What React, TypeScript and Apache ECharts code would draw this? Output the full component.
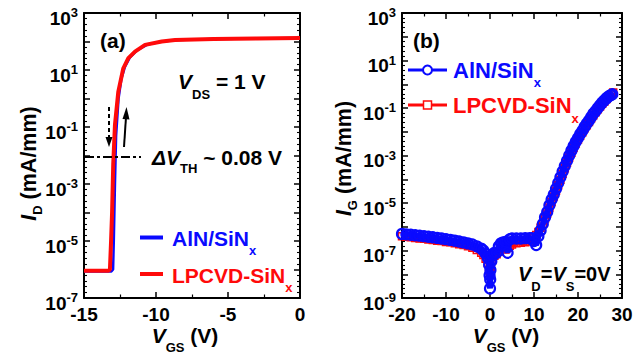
import React, { useEffect, useRef } from 'react';
import * as echarts from 'echarts';

// ---------- data (a): I_D vs V_GS, V_DS = 1 V ----------
const A_BLUE: [number, number][] = [
  [-15, 8.5e-7], [-13.1, 8.5e-7], [-12.98, 1e-6], [-12.93, 1e-5], [-12.85, 1e-3], [-12.77, 5e-2],
  [-12.6, 1], [-12.4, 5], [-12.15, 13], [-11.8, 28], [-11.3, 50], [-10.6, 78], [-9.6, 100],
  [-8.5, 112], [-6, 122], [-3, 128], [0, 132],
];
const A_RED: [number, number][] = [
  [-15, 9e-7], [-13.3, 9e-7], [-13.2, 1e-6], [-13.12, 1e-5], [-13.05, 1e-4], [-12.97, 5e-3],
  [-12.85, 1.2e-1], [-12.62, 1.7], [-12.27, 11.5], [-11.92, 26], [-11.46, 44], [-10.76, 76],
  [-9.6, 100], [-8.68, 112], [-6, 122], [-3, 128], [0, 132],
];

// ---------- data (b): I_G vs V_GS, V_D = V_S = 0 V ----------
const B_BLUE: [number, number][] = [
  [-20, 5e-7], [-19, 4.8e-7], [-18, 4.6e-7], [-17, 4.4e-7], [-16, 4.2e-7], [-15, 4e-7],
  [-14, 3.8e-7], [-13, 3.6e-7], [-12, 3.4e-7], [-11, 3.2e-7], [-10, 3e-7], [-9, 2.8e-7],
  [-8, 2.6e-7], [-7, 2.4e-7], [-6, 2.2e-7], [-5, 2e-7], [-4, 1.8e-7], [-3, 1.5e-7],
  [-2, 1.2e-7], [-1.5, 1e-7], [-1, 7.5e-8], [-0.5, 5e-8], [-0.2, 2.5e-8], [-0.1, 9e-9],
  [0, 2.5e-9], [0.05, 6e-9], [0.1, 1.5e-8], [0.3, 3.5e-8], [0.6, 6e-8], [1, 8e-8],
  [1.5, 8e-8], [2, 1.5e-7], [2.5, 2e-7], [3, 2.2e-7], [3.5, 2.3e-7], [4, 8e-8], [4.5, 3e-7],
  [5, 3.2e-7], [6, 3.2e-7], [7, 3.2e-7], [8, 3.3e-7], [9, 3.3e-7], [9.5, 3.3e-7], [10, 2.5e-7],
  [10.5, 1.7e-7], [11, 4e-7], [11.5, 7e-7], [12, 1.3e-6], [12.5, 2.5e-6], [13, 4.2e-6],
  [13.5, 8e-6], [14, 1.4e-5], [14.5, 2.3e-5], [15, 4e-5], [15.5, 7e-5], [16, 1.2e-4],
  [16.5, 2.1e-4], [17, 3.6e-4], [17.5, 6e-4], [18, 1e-3], [18.5, 1.6e-3], [19, 2.5e-3],
  [19.5, 3.8e-3], [20, 5.5e-3], [20.5, 8e-3], [21, 1.1e-2], [21.5, 1.6e-2], [22, 2.2e-2],
  [22.5, 3e-2], [23, 4.2e-2], [23.5, 5.8e-2], [24, 7.5e-2], [24.5, 1e-1], [25, 1.3e-1],
  [25.5, 1.7e-1], [26, 2.1e-1], [26.5, 2.6e-1], [27, 3.1e-1], [27.5, 3.5e-1], [27.8, 3.8e-1],
];
const B_RED: [number, number][] = [
  [-20, 4e-7], [-19, 3.8e-7], [-18, 3.6e-7], [-17, 3.4e-7], [-16, 3.2e-7], [-15, 3.1e-7],
  [-14, 2.9e-7], [-13, 2.8e-7], [-12, 2.6e-7], [-11, 2.5e-7], [-10, 2.3e-7], [-9, 2.2e-7],
  [-8, 2e-7], [-7, 1.85e-7], [-6, 1.7e-7], [-5, 1.5e-7], [-4, 1.3e-7], [-3, 1.05e-7],
  [-2, 8e-8], [-1.5, 6.5e-8], [-1, 4.5e-8], [-0.5, 3e-8], [-0.2, 1.5e-8], [0, 1.2e-8],
  [0.2, 2e-8], [0.5, 4e-8], [1, 6e-8], [1.5, 7e-8], [2, 9e-8], [2.5, 1.2e-7], [3, 1.5e-7],
  [3.5, 1.1e-7], [4, 1.3e-7], [4.5, 1.6e-7], [5, 1.8e-7], [6, 2e-7], [7, 2.1e-7], [8, 2.2e-7],
  [9, 2.4e-7], [9.5, 2.8e-7], [10, 3.5e-7], [10.5, 4.5e-7], [11, 6e-7], [11.5, 9e-7],
  [12, 1.3e-6], [12.5, 2.2e-6], [13, 3.6e-6], [13.5, 6.5e-6], [14, 1.1e-5], [14.5, 1.9e-5],
  [15, 3.3e-5], [15.5, 5.6e-5], [16, 9.5e-5], [16.5, 1.7e-4], [17, 2.9e-4], [17.5, 4.9e-4],
  [18, 8.2e-4], [18.5, 1.3e-3], [19, 2.1e-3], [19.5, 3.2e-3], [20, 4.7e-3], [20.5, 6.8e-3],
  [21, 9.5e-3], [21.5, 1.4e-2], [22, 1.9e-2], [22.5, 2.6e-2], [23, 3.7e-2], [23.5, 5e-2],
  [24, 6.7e-2], [24.5, 8.8e-2], [25, 1.15e-1], [25.5, 1.5e-1], [26, 1.9e-1], [26.5, 2.4e-1],
  [27, 3e-1], [27.5, 3.7e-1], [28, 4.5e-1],
];

// ---------- axes / tick labels ----------
const A_X_RANGE = [-15, 0];
const A_X_STEP = 5;
const B_X_RANGE = [-20, 30];
const B_X_STEP = 10;
const A_Y_EXP_RANGE = [-7, 3]; // decades
const B_Y_EXP_RANGE = [-9, 3];
const A_Y_LABEL_EXP = [-7, -5, -3, -1, 1, 3];
const B_Y_LABEL_EXP = [-9, -7, -5, -3, -1, 1, 3];

const FONT = 'Liberation Sans';
const BLUE = '#0a0aff';
const RED = '#ff0a0a';

const toLog = (pts: [number, number][]) => pts.map(([v, i]) => [v, Math.log10(i)]);

function tok(size: number, color: string, italic = false, extra: any = {}) {
  return { fontSize: size, fontFamily: FONT, fontWeight: 'bold', fontStyle: italic ? 'italic' : 'normal', fill: color, ...extra };
}
// base + subscript rich styles; d = how far the subscript's centre sits below the base centre
function subRich(F: number, f: number, d: number, color = '#000') {
  const L = 2 * d + f;
  return {
    i: tok(F, color, true, { lineHeight: L }),
    n: tok(F, color, false, { lineHeight: L }),
    s: tok(f, color, false, { verticalAlign: 'bottom' }),
  };
}
function txt(x: number, y: number, text: string, rich: any, align = 'left', rotation = 0) {
  return {
    type: 'text', x, y, rotation, z: 10,
    style: { text, rich, align, verticalAlign: 'middle', fill: '#000', fontFamily: FONT },
  };
}

function xAxisCfg(grid: number, range: number[], step: number, pos: 'bottom' | 'top', labels: boolean) {
  return {
    type: 'value', gridIndex: grid, position: pos, min: range[0], max: range[1], interval: step,
    axisLine: { show: true, onZero: false, lineStyle: { color: '#000', width: 2 } },
    axisTick: { show: true, inside: true, length: 6, lineStyle: { color: '#000', width: 1.5 } },
    minorTick: { show: true, splitNumber: 2, length: 3.5, lineStyle: { color: '#000', width: 1.2 } },
    splitLine: { show: false },
    axisLabel: { show: labels, margin: 7, fontSize: 19, fontWeight: 'bold', fontFamily: FONT, color: '#000' },
  };
}
function yAxisCfg(grid: number, range: number[], labelExp: number[], pos: 'left' | 'right', labels: boolean) {
  return {
    type: 'value', gridIndex: grid, position: pos, min: range[0], max: range[1], interval: 1,
    axisLine: { show: true, onZero: false, lineStyle: { color: '#000', width: 2 } },
    axisTick: { show: true, inside: true, length: 6, lineStyle: { color: '#000', width: 1.5 } },
    minorTick: { show: true, splitNumber: 5, length: 3, lineStyle: { color: '#000', width: 1.1 } },
    splitLine: { show: false },
    axisLabel: {
      show: labels, margin: 6, padding: [10, 0, 0, 0],
      formatter: (v: number) => {
        const e = Math.round(v);
        return labelExp.indexOf(e) >= 0 ? `{b|10}{s|${e}}` : '';
      },
      rich: {
        b: { fontSize: 19, fontWeight: 'bold', fontFamily: FONT, color: '#000', lineHeight: 24 },
        s: { fontSize: 13, fontWeight: 'bold', fontFamily: FONT, color: '#000', verticalAlign: 'top' },
      },
    },
  };
}

export default function App() {
  const ref = useRef<HTMLDivElement>(null);
  useEffect(() => {
    if (!ref.current) return;
    const chart = echarts.init(ref.current, null, { renderer: 'svg' });

    const rV = subRich(21, 13, 13);
    const rTH = subRich(21, 13, 10.5);
    const rLegA = subRich(21, 13, 11.5, BLUE);
    const rLegA2 = subRich(21, 13, 12, RED);
    const rLegB = subRich(22, 13, 12, BLUE);
    const rLegB2 = subRich(22, 13, 13, RED);
    const rVD = subRich(20, 13, 12.5);
    const rAxX = subRich(21, 13, 12);
    const rAxY = subRich(21.5, 13, 9);

    const graphics: any[] = [
      txt(100, 40, '{n|(a)}', { n: tok(21, '#000') }),
      txt(413, 40, '{n|(b)}', { n: tok(21, '#000') }),
      txt(178, 81.5, '{i|V}{s|DS}{n| = 1 V}', rV),
      txt(152, 157.5, '{i|ΔV}{s|TH}{n| ~ 0.08 V}', rTH),
      txt(518, 273.5, '{i|V}{s|D}{n|=}{i|V}{s|S}{n|=0V}', rVD),
      // axis names
      txt(185, 335.5, '{i|V}{s|GS}{n| (V)}', rAxX, 'center'),
      txt(506, 335.5, '{i|V}{s|GS}{n| (V)}', rAxX, 'center'),
      txt(28.5, 163.5, '{i|I}{s|D}{n| (mA/mm)}', rAxY, 'center', Math.PI / 2),
      txt(343.5, 158.5, '{i|I}{s|G}{n| (mA/mm)}', rAxY, 'center', Math.PI / 2),
      // threshold dash-dot line
      { type: 'line', z: 9, shape: { x1: 85, y1: 157, x2: 141, y2: 157 }, style: { stroke: '#000', lineWidth: 2, lineDash: [9, 3, 3, 3] } },
      // dashed arrow (down)
      { type: 'line', z: 9, shape: { x1: 109, y1: 107, x2: 109, y2: 138 }, style: { stroke: '#000', lineWidth: 2, lineDash: [4, 3] } },
      { type: 'polygon', z: 9, shape: { points: [[105.5, 137], [112.5, 137], [109, 147]] }, style: { fill: '#000' } },
      // solid arrow (up)
      { type: 'line', z: 9, shape: { x1: 124, y1: 147, x2: 126, y2: 117 }, style: { stroke: '#000', lineWidth: 2 } },
      { type: 'polygon', z: 9, shape: { points: [[122.5, 119], [129.5, 119.5], [126.5, 107]] }, style: { fill: '#000' } },
      // legend (a)
      { type: 'line', z: 9, shape: { x1: 140, y1: 237.5, x2: 163, y2: 237.5 }, style: { stroke: BLUE, lineWidth: 4 } },
      { type: 'line', z: 9, shape: { x1: 140, y1: 274, x2: 163, y2: 274 }, style: { stroke: RED, lineWidth: 4 } },
      txt(172, 238.5, '{n|AlN/SiN}{s|x}', rLegA),
      txt(172, 275, '{n|LPCVD-SiN}{s|x}', rLegA2),
      // legend (b)
      { type: 'line', z: 9, shape: { x1: 408, y1: 70, x2: 447, y2: 70 }, style: { stroke: BLUE, lineWidth: 3 } },
      { type: 'circle', z: 10, shape: { cx: 427.5, cy: 70, r: 4.5 }, style: { fill: '#fff', stroke: BLUE, lineWidth: 2 } },
      { type: 'line', z: 9, shape: { x1: 408, y1: 105, x2: 447, y2: 105 }, style: { stroke: RED, lineWidth: 3 } },
      { type: 'rect', z: 10, shape: { x: 423.5, y: 101, width: 8, height: 8 }, style: { fill: '#fff', stroke: RED, lineWidth: 1.5 } },
      txt(453, 70.5, '{n|AlN/SiN}{s|x}', rLegB),
      txt(453, 105.5, '{n|LPCVD-SiN}{s|x}', rLegB2),
    ];

    const option: any = {
      animation: false,
      backgroundColor: '#fff',
      textStyle: { fontFamily: FONT, fontWeight: 'bold' },
      grid: [
        { left: 84, top: 13, width: 216, height: 285 },
        { left: 402, top: 13, width: 220, height: 285 },
      ],
      xAxis: [
        xAxisCfg(0, A_X_RANGE, A_X_STEP, 'bottom', true),
        xAxisCfg(0, A_X_RANGE, A_X_STEP, 'top', false),
        xAxisCfg(1, B_X_RANGE, B_X_STEP, 'bottom', true),
        xAxisCfg(1, B_X_RANGE, B_X_STEP, 'top', false),
      ],
      yAxis: [
        yAxisCfg(0, A_Y_EXP_RANGE, A_Y_LABEL_EXP, 'left', true),
        yAxisCfg(0, A_Y_EXP_RANGE, A_Y_LABEL_EXP, 'right', false),
        yAxisCfg(1, B_Y_EXP_RANGE, B_Y_LABEL_EXP, 'left', true),
        yAxisCfg(1, B_Y_EXP_RANGE, B_Y_LABEL_EXP, 'right', false),
      ],
      series: [
        {
          name: 'AlN/SiNx (a)', type: 'line', xAxisIndex: 0, yAxisIndex: 0, data: toLog(A_BLUE),
          showSymbol: false, lineStyle: { color: BLUE, width: 2.5 }, itemStyle: { color: BLUE }, z: 3,
        },
        {
          name: 'LPCVD-SiNx (a)', type: 'line', xAxisIndex: 0, yAxisIndex: 0, data: toLog(A_RED),
          showSymbol: false, lineStyle: { color: RED, width: 4 }, itemStyle: { color: RED }, z: 4,
        },
        {
          name: 'LPCVD-SiNx (b)', type: 'line', xAxisIndex: 2, yAxisIndex: 2, data: toLog(B_RED),
          symbol: 'rect', symbolSize: 7, showAllSymbol: true,
          lineStyle: { color: RED, width: 5 },
          itemStyle: { color: 'rgba(255,255,255,0)', borderColor: RED, borderWidth: 1.5 }, z: 3,
        },
        {
          name: 'AlN/SiNx (b)', type: 'line', xAxisIndex: 2, yAxisIndex: 2, data: toLog(B_BLUE),
          symbol: 'circle', symbolSize: 10, showAllSymbol: true,
          lineStyle: { color: BLUE, width: 6 },
          itemStyle: { color: 'rgba(255,255,255,0)', borderColor: BLUE, borderWidth: 2.2 }, z: 4,
        },
      ],
      graphic: { elements: graphics },
    };
    chart.setOption(option);
    return () => chart.dispose();
  }, []);
  return (
    <div
      ref={ref}
      style={{ position: 'fixed', left: 0, top: 0, width: 640, height: 354, background: '#fff' }}
    />
  );
}
